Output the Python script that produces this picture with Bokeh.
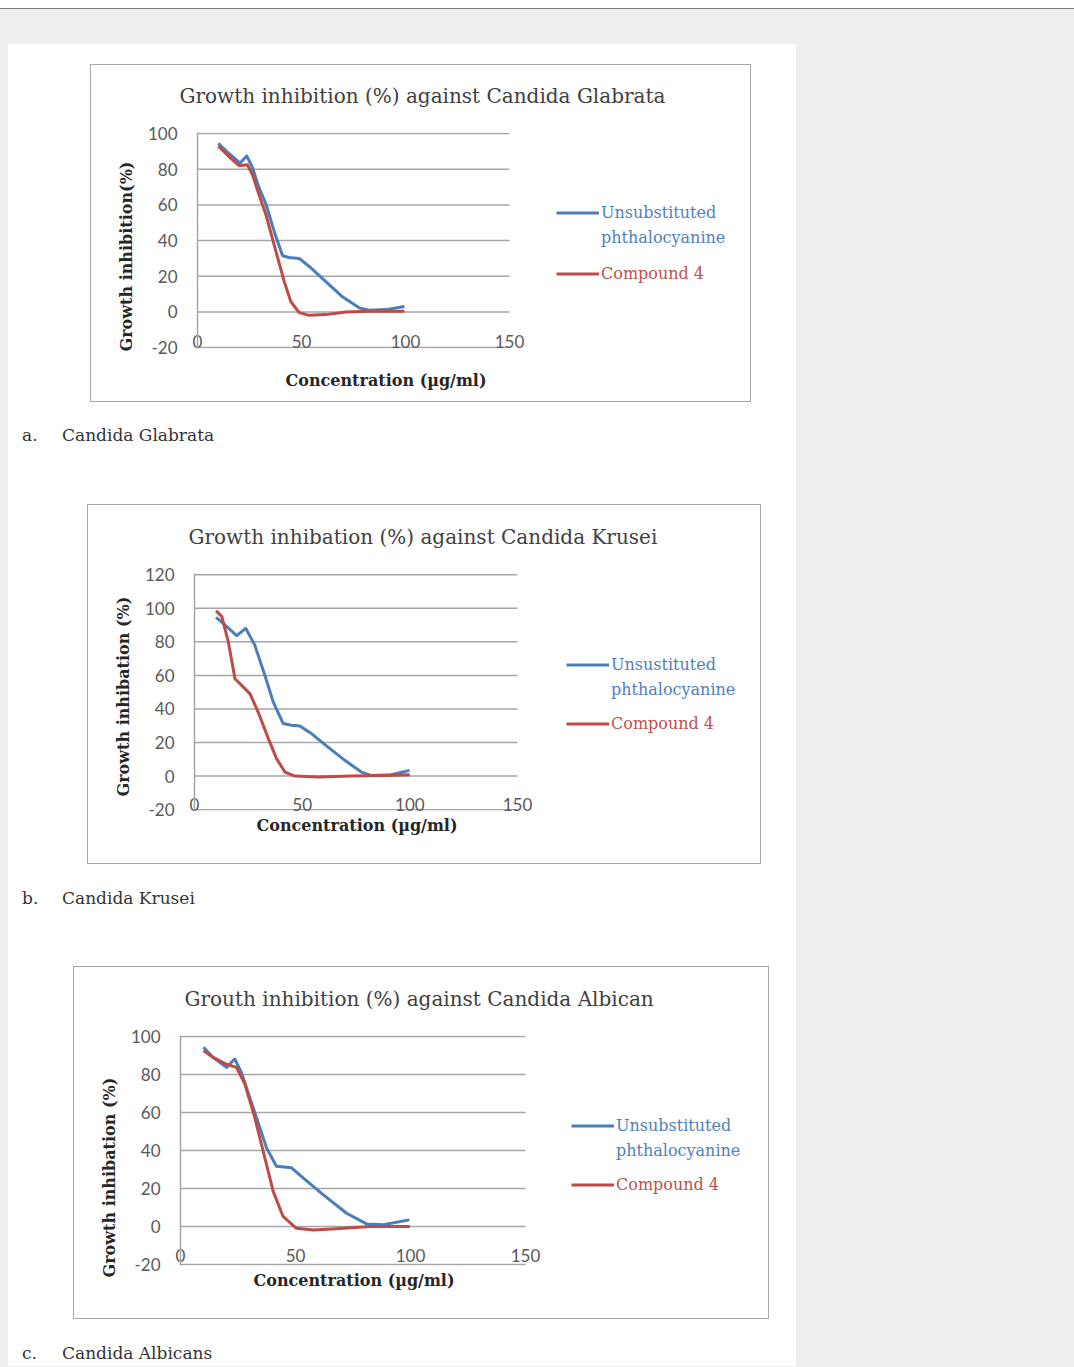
from bokeh.plotting import figure
from bokeh.layouts import column
from bokeh.models import Div, Legend, LegendItem, FixedTicker, Title
from bokeh.embed import file_html
from bokeh.resources import INLINE

# ---------------- data ----------------
x_ticks = [0, 50, 100, 150]

a_title = "Growth inhibition (%) against Candida Glabrata"
a_ylabel = "Growth inhibition(%)"
a_yticks = [-20, 0, 20, 40, 60, 80, 100]
a_blue_x = [10, 15, 20.5, 23.7, 26.4, 29.5, 32.9, 36.9, 40.9, 44, 48.9, 53.7, 61.7, 69.7, 77.7, 82.5, 90.5, 99.5]
a_blue_y = [94.5, 89, 83.5, 87.5, 81, 70, 60.5, 45, 31.5, 30.5, 30, 25.5, 17, 8.5, 2.3, 1, 1.3, 3]
a_red_x = [10, 15.2, 20, 24, 26.4, 29.5, 32.9, 37.7, 41.7, 44.9, 48.9, 53.7, 61.7, 71.3, 82.5, 99.5]
a_red_y = [93, 87, 82, 82.5, 77, 66, 54.5, 34, 17, 5.7, -0.4, -1.9, -1.5, 0, 0.4, 0.4]
a_legend = ["Unsubstituted", "phthalocyanine", "Compound 4"]
a_caption = ["a.", "Candida Glabrata"]

b_title = "Growth inhibation (%) against Candida Krusei"
b_ylabel = "Growth inhibation (%)"
b_yticks = [-20, 0, 20, 40, 60, 80, 100, 120]
b_blue_x = [10, 14.2, 19.6, 23.8, 28, 32.7, 36.6, 41.2, 45, 48.9, 54.3, 62, 69.8, 77.5, 82, 91.4, 99.8]
b_blue_y = [94.5, 90, 83.7, 88, 78, 60, 44, 31.3, 30.3, 29.9, 25.3, 17.3, 9.4, 2.4, 0.4, 0.8, 3.4]
b_red_x = [10, 12.7, 15.7, 18.8, 22.7, 25.8, 29.6, 34.3, 38.1, 42, 46.6, 57.4, 72.8, 88.3, 100]
b_red_y = [98.5, 95, 80, 58, 53, 49, 38, 22.3, 10.4, 2.4, 0, -0.6, 0, 0.4, 0.8]
b_legend = ["Unsustituted", "phthalocyanine", "Compound 4"]
b_caption = ["b.", "Candida Krusei"]

c_title = "Grouth inhibition (%) against Candida Albican"
c_ylabel = "Growth inhibation (%)"
c_yticks = [-20, 0, 20, 40, 60, 80, 100]
c_blue_x = [10, 14.2, 20, 23.6, 26.5, 31.6, 37.4, 41.7, 48.3, 53.3, 62, 72.2, 80.9, 88, 99.5]
c_blue_y = [94.4, 89, 83.8, 88.2, 81, 62.6, 41.4, 31.7, 30.9, 25.6, 16.8, 7, 1.4, 0.9, 3.5]
c_red_x = [10, 14.2, 20, 24.3, 28, 32.3, 36.7, 40.3, 44.6, 50.4, 57.7, 67.8, 82.3, 99.7]
c_red_y = [92.6, 89, 85.4, 83.8, 75, 57.3, 36, 18.5, 5.3, -0.9, -1.8, -1.2, 0, 0]
c_legend = ["Unsubstituted", "phthalocyanine", "Compound 4"]
c_caption = ["c.", "Candida Albicans"]

xlabel = "Concentration (µg/ml)"

# ---------------- styles ----------------
BLUE = "#4a7ebb"
RED = "#be4b48"
BLUE_T = "#4f81bd"
RED_T = "#c0504d"
GRID = "#a6a6a6"
BOXC = "#a9a9a9"
SERIF = "DejaVu Serif"
SANS = "Lato"
PANEL_X = 8
D = 20  # extra canvas around each boxed chart


def make_chart(title, ylabel, yticks, bx, by, rx, ry, leg, box, fx0, fx150, fytop, fybot,
               title_left, xlab_left, ylab_bottom, xlab_s, tick_s, leg_x, leg_c1, leg_c2,
               margin_top):
    bx0, by0, bx1, by1 = box
    bw, bh = bx1 - bx0, by1 - by0
    ymin, ymax = yticks[0], yticks[-1]
    ppx = (fx150 - fx0) / 150.0
    ppy = (fybot - fytop) / float(ymax - ymin)
    pad = 0.5
    frame_left = fx0
    frame_top = int(round(fytop - pad * ppy))
    fw = int(round(bx1 - 4 - frame_left))
    fh = int(round((ymax - ymin + 2 * pad) * ppy))
    frame_bot = frame_top + fh
    L = frame_left - bx0 + D
    T = frame_top - by0 + D
    R = bx1 - (frame_left + fw) + D
    B = by1 - frame_bot + D
    W, H = bw + 2 * D, bh + 2 * D

    p = figure(width=W, height=H, frame_width=fw, frame_height=fh,
               x_range=(0, fw / ppx), y_range=(ymin - pad, ymin - pad + fh / ppy),
               output_backend="svg", toolbar_location=None,
               min_border_left=L, min_border_right=R,
               min_border_top=T, min_border_bottom=B,
               background_fill_color="white", border_fill_alpha=0,
               outline_line_color=None)
    p.margin = (margin_top, 0, 0, bx0 - D - PANEL_X)
    g = "linear-gradient(%s,%s)" % (BOXC, BOXC)
    p.styles = {
        "background-image": ", ".join([g] * 4),
        "background-size": "%dpx 1px, %dpx 1px, 1px %dpx, 1px %dpx" % (bw, bw, bh, bh),
        "background-position": "%dpx %dpx, %dpx %dpx, %dpx %dpx, %dpx %dpx" % (
            D, D, D, D + bh - 1, D, D, D + bw - 1, D),
        "background-repeat": "no-repeat",
    }

    p.title.text = title
    p.title.text_font = SERIF
    p.title.text_font_size = "20px"
    p.title.text_font_style = "normal"
    p.title.text_color = "#404040"
    p.title.align = "left"
    p.title.offset = title_left - frame_left
    p.title.standoff = 50

    p.xgrid.visible = False
    p.ygrid.visible = False
    p.segment(x0=[x_ticks[0]] * len(yticks), x1=[x_ticks[-1]] * len(yticks),
              y0=yticks, y1=yticks, line_color=GRID, line_width=1.5)

    for ax in (p.xaxis[0], p.yaxis[0]):
        ax.major_tick_line_color = None
        ax.minor_tick_line_color = None
        ax.major_tick_out = 0
        ax.major_tick_in = 0
        ax.major_label_text_font = SANS
        ax.major_label_text_font_size = "17px"
        ax.major_label_text_color = "#595959"
    p.yaxis.axis_line_color = GRID
    p.yaxis.axis_line_width = 1.5
    p.xaxis.axis_line_color = None
    p.xaxis.ticker = FixedTicker(ticks=x_ticks)
    p.yaxis.ticker = FixedTicker(ticks=yticks)
    p.yaxis.major_label_overrides = {t: str(t) for t in yticks}
    p.yaxis.major_label_standoff = 20
    p.xaxis.major_label_standoff = tick_s

    xt = Title(text=xlabel, text_font=SERIF, text_font_size="16px",
               text_font_style="bold", text_color="#262626",
               align="left", offset=xlab_left - frame_left, standoff=xlab_s)
    p.add_layout(xt, "below")
    yt = Title(text=ylabel, text_font=SERIF, text_font_size="16px",
               text_font_style="bold", text_color="#262626",
               align="left", offset=frame_bot - ylab_bottom, standoff=18)
    p.add_layout(yt, "left")

    rb = p.line(bx, by, line_color=BLUE, line_width=3, line_join="round")
    rr = p.line(rx, ry, line_color=RED, line_width=3, line_join="round")
    ghost = p.line(bx, by, line_alpha=0)

    row_h = 25
    common = dict(glyph_width=43, glyph_height=row_h, label_height=row_h,
                  label_standoff=2, padding=0, margin=0, spacing=0,
                  border_line_color=None, background_fill_alpha=0,
                  label_text_font=SERIF, label_text_font_size="16px")
    l1 = Legend(items=[LegendItem(label=leg[0], renderers=[rb]),
                       LegendItem(label=leg[1], renderers=[ghost])],
                location=(int(round(leg_x - frame_left)),
                          int(round(frame_bot - (leg_c1 - row_h / 2 + 2 * row_h)))),
                label_text_color=BLUE_T, **common)
    l2 = Legend(items=[LegendItem(label=leg[2], renderers=[rr])],
                location=(int(round(leg_x - frame_left)),
                          int(round(frame_bot - (leg_c2 + row_h / 2)))),
                label_text_color=RED_T, **common)
    p.add_layout(l1)
    p.add_layout(l2)
    return p


def caption(parts, top, h):
    html = ("<div style=\"font-family:'DejaVu Serif';font-size:17px;color:#333;"
            "line-height:%dpx;white-space:nowrap\">"
            "<span style='display:inline-block;width:40px'>%s</span>%s</div>" % (h, parts[0], parts[1]))
    return Div(text=html, width=400, height=h, margin=(top, 0, 0, 14))


pa = make_chart(a_title, a_ylabel, a_yticks, a_blue_x, a_blue_y, a_red_x, a_red_y, a_legend,
                (90, 65, 751, 403), 196, 508, 134, 348,
                178, 284, 352, 36, -14, 555, 214, 274, 0)
cap_a = caption(a_caption, 0, 26)
pb = make_chart(b_title, b_ylabel, b_yticks, b_blue_x, b_blue_y, b_red_x, b_red_y, b_legend,
                (87, 505, 761, 865), 194, 517, 575, 810,
                188, 256, 797, 0, -13, 566, 666, 725, 36)
cap_b = caption(b_caption, 1, 26)
pc = make_chart(c_title, c_ylabel, c_yticks, c_blue_x, c_blue_y, c_red_x, c_red_y, c_legend,
                (73, 967, 769, 1320), 180, 525, 1037, 1265,
                184, 253, 1278, 6, -17, 571, 1126, 1185, 35)
cap_c = caption(c_caption, 1, 26)

panel = column(children=[pa, cap_a, pb, cap_b, pc, cap_c], width=788, height=1322,
               margin=(35, 0, 0, PANEL_X), spacing=0, styles={"background-color": "white"})
top = Div(text="", width=1074, height=9, margin=(0, 0, 0, 0),
          styles={"background-color": "white", "border-bottom": "1px solid #808080"})
root = column(children=[top, panel], width=1074, height=1367, spacing=0, margin=(0, 0, 0, 0),
              styles={"background-color": "#eeeeee"})

open("out.html", "w").write(file_html(root, INLINE))
